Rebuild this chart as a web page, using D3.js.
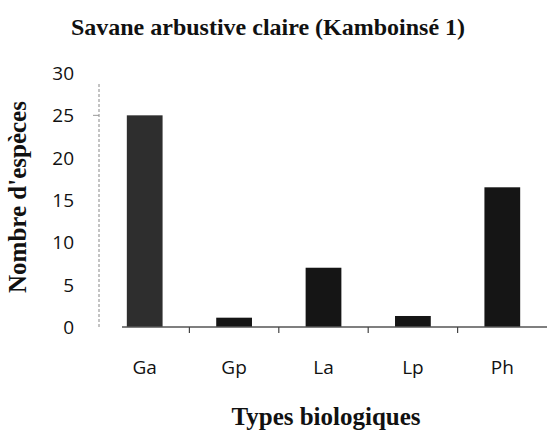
<!DOCTYPE html>
<html><head><meta charset="utf-8">
<script src="https://cdn.jsdelivr.net/npm/d3@7"></script>
<style>body{margin:0;background:#fff}svg{display:block}</style>
</head><body>
<svg id="c" width="547" height="433"></svg>
<script>
const categories = ["Ga", "Gp", "La", "Lp", "Ph"];
const values = [25, 1.1, 7, 1.3, 16.5];
const yTicks = [0, 5, 10, 15, 20, 25, 30];
const title = "Savane arbustive claire (Kamboinsé 1)";
const xTitle = "Types biologiques";
const yTitle = "Nombre d'espèces";

const svg = d3.select("#c");
const x = d3.scaleBand().domain(categories).range([100, 547]).paddingInner(0.6).paddingOuter(0.3);
const y = d3.scaleLinear().domain([0, 30]).range([327, 73]);

// bars
svg.append("g").selectAll("rect").data(categories).join("rect")
  .attr("x", d => x(d))
  .attr("width", x.bandwidth())
  .attr("y", (d, i) => y(values[i]))
  .attr("height", (d, i) => y(0) - y(values[i]))
  .attr("fill", (d, i) => i === 0 ? "#2e2e2e" : "#151515");

// x axis line
svg.append("line").attr("x1", 122).attr("x2", 547).attr("y1", y(0)).attr("y2", y(0))
  .attr("stroke", "#555").attr("stroke-width", 1.5);
// boundary ticks
const step = x.step();
svg.append("g").selectAll("line").data(categories.slice(1)).join("line")
  .attr("x1", d => x(d) - step * 0.3).attr("x2", d => x(d) - step * 0.3)
  .attr("y1", y(0)).attr("y2", y(0) + 6)
  .attr("stroke", "#444").attr("stroke-width", 1.2);

// x tick labels
svg.append("g").selectAll("text").data(categories).join("text")
  .attr("x", d => x(d) + x.bandwidth() / 2).attr("y", 374)
  .attr("text-anchor", "middle")
  .attr("font-family", "Open Sans, DejaVu Sans, sans-serif").attr("font-size", 19)
  .attr("fill", "#111").text(d => d);

// y axis (faint dotted)
svg.append("line").attr("x1", 99).attr("x2", 99).attr("y1", 84).attr("y2", y(0))
  .attr("stroke", "#888").attr("stroke-width", 1).attr("stroke-dasharray", "3,2");
svg.append("line").attr("x1", 93).attr("x2", 99).attr("y1", y(25)).attr("y2", y(25))
  .attr("stroke", "#999").attr("stroke-width", 1);

// y tick labels
svg.append("g").selectAll("text").data(yTicks).join("text")
  .attr("x", 74).attr("y", d => y(d)).attr("dy", "0.36em")
  .attr("text-anchor", "end")
  .attr("font-family", "Open Sans, DejaVu Sans, sans-serif").attr("font-size", 19)
  .attr("fill", "#111").text(d => d);

// titles
svg.append("text").attr("x", 268).attr("y", 35).attr("text-anchor", "middle")
  .attr("font-family", "Liberation Serif, Times New Roman, serif").attr("font-weight", "bold")
  .attr("font-size", 24).attr("fill", "#111").text(title);
svg.append("text").attr("x", 326).attr("y", 425).attr("text-anchor", "middle")
  .attr("font-family", "Liberation Serif, Times New Roman, serif").attr("font-weight", "bold")
  .attr("font-size", 25).attr("fill", "#111").text(xTitle);
svg.append("text").attr("transform", "translate(26,197) rotate(-90)").attr("text-anchor", "middle")
  .attr("font-family", "Liberation Serif, Times New Roman, serif").attr("font-weight", "bold")
  .attr("font-size", 25).attr("fill", "#111").text(yTitle);
</script>
</body></html>
